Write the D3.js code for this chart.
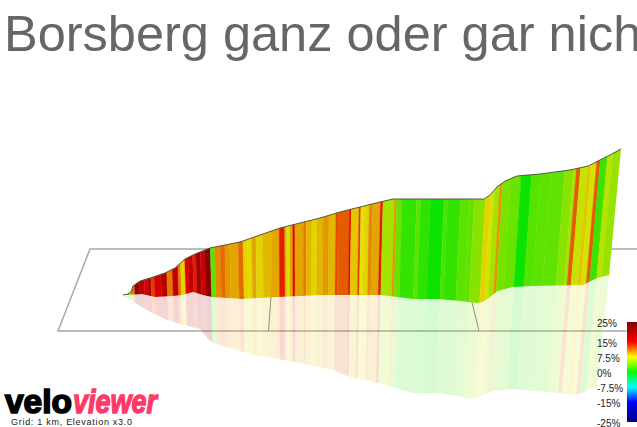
<!DOCTYPE html>
<html><head><meta charset="utf-8">
<script src="https://cdn.jsdelivr.net/npm/d3@7"></script>
<style>html,body{margin:0;padding:0;background:#fff;overflow:hidden}svg{display:block}text{font-family:"Liberation Sans",Arial,sans-serif}</style>
</head><body><svg id="c" width="637" height="427"></svg>
<script>
const titleText = "Borsberg ganz oder gar nicht";
const gridNote = "Grid: 1 km, Elevation x3.0";
const gridKm = [1, 2];
const topKm = [0,.024,.038,.048,.082,.13,.202,.25,.298,.346,.418,.49,.5625,.659,.755,.851,.947,1.043,1.139,1.236,1.298,1.428,1.572,1.736,1.764,1.798,1.837,1.894,2.005,2.149,2.236,2.293,2.341,2.394];
const topElev = [10,12,16,28,38,44,54,64,82,92,104,110,116,130,144,154,164,176,186,196,202,202,202,202,210,226,238,248,252,260,268,280,290,302];
const baseKm = [0,.091,.154,.24,.284,.337,.385,.428,.577,.644,.851,.962,1.236,1.317,1.394,1.51,1.62,1.702,1.731,1.764,1.803,1.875,1.971,2.212,2.279,2.337];
const baseElev = [10,12,6,8,10,16,10,6,2,4,8,10,10,6,2,2,-2,-6,-4,6,18,26,28,30,44,50];
const mirrorKm = [0,.034,.082,.13,.212,.288,.37,.404,.433,.529,.611,.721,.851,1.01,1.091,1.188,1.308,1.394,1.524,1.683,1.779,1.875,2.087,2.183,2.279];
const mirrorElev = [8,2,-12,-24,-40,-50,-58,-76,-86,-98,-108,-116,-126,-140,-154,-162,-176,-186,-186,-198,-182,-178,-186,-190,-174];
const stripeKm = [0,.042,.058,.082,.106,.122,.138,.154,.186,.215,.242,.269,.282,.303,.319,.341,.357,.378,.399,.426,.447,.474,.495,.518,.559,.582,.602,.623,.643,.675,.715,.753,.779,.788,.803,.817,.827,.867,.88,.907,.931,.96,.987,1.019,1.03,1.083,1.091,1.127,1.136,1.152,1.175,1.191,1.227,1.239,1.292,1.303,1.328,1.396,1.415,1.46,1.524,1.54,1.601,1.644,1.665,1.716,1.74,1.756,1.78,1.793,1.828,1.876,1.925,1.965,2.013,2.077,2.117,2.13,2.149,2.181,2.197,2.221,2.237,2.269,2.293,2.46];
const stripeGrade = [3,11,22,19,16,20,13,16,19,11,18,11,8,15,18,14,21,17,23,3,10.5,11.5,10,9.5,11.5,8,7.8,9.5,8,9,9.5,14,9.5,7,9.5,15,9.5,11,9,8,9,10,9,12.5,12,15,8.5,13,7.5,8,10.5,9.5,14,5.5,10,3.5,1.8,3,1.5,.5,2.5,1.8,3,3.2,4.5,8,7,5.5,10,4,3.5,.5,2.8,3,3.2,4.5,5.5,12,6.5,8.5,7,12,2,6,5];
const legendTicks = [25,15,7.5,0,-7.5,-15,-25];
const rampGrades = [25,15,7.5,0,-7.5,-15,-25];
const rampColours = ["#800000","#ff0000","#ffff00","#00ff00","#00ffff","#0000ff","#000080"];

const svg = d3.select("#c");
const kmX = d3.scaleLinear().domain([0,1]).range([123,331]);
const elevY = d3.scaleLinear().domain([0,100]).range([300,250]);
const frontX = d3.scaleLinear().domain([0,1]).range([58,268.5]);
const backX = d3.scaleLinear().domain([0,1]).range([90,274.5]);
const gradeColour = d3.scaleLinear().domain(rampGrades).range(rampColours);
const legendY = d3.scaleLinear().domain([-25,25]).range([422,322]);
const defs = svg.append("defs");
defs.append("filter").attr("id","soft").append("feGaussianBlur").attr("stdDeviation",.45);

// ground grid
const grid = svg.append("g").attr("stroke","#a8a8a8").attr("stroke-width",1.5).attr("fill","none");
const gridBack = 249, gridFront = 331;
grid.append("path").attr("d",`M637,${gridBack}H${backX(0)}L${frontX(0)},${gridFront}H637`);
grid.append("g").attr("stroke","#888").attr("stroke-width",1).selectAll("line").data(gridKm).join("line")
  .attr("x1",frontX).attr("y1",gridFront).attr("x2",backX).attr("y2",gridBack);

const pts = (k,e)=>k.map((d,i)=>[kmX(d),elevY(e[i])]);
const topPts = pts(topKm,topElev), basePts = pts(baseKm,baseElev), mirrorPts = pts(mirrorKm,mirrorElev);
const line = d3.line();
const wallD = line(topPts.concat(basePts.slice().reverse()))+"Z";
const mirrorD = line(basePts.concat(mirrorPts.slice().reverse()))+"Z";
defs.append("clipPath").attr("id","wall").append("path").attr("d",wallD);
defs.append("clipPath").attr("id","mirror").append("path").attr("d",mirrorD);

// perspective lean of the vertical walls
const leanCentre = 300, leanK = 3.05e-4, yRef = 297, yHi = 130, yLo = 420;
const xAt = (x,y)=>x+(x-leanCentre)*(yRef-y)*leanK;
const stripeData = stripeGrade.map((g,i)=>({g,a:kmX(stripeKm[i]),b:kmX(stripeKm[i+1])}));
const stripeD = d=>line([[xAt(d.a,yHi),yHi],[xAt(d.b,yHi),yHi],[xAt(d.b,yLo),yLo],[xAt(d.a,yLo),yLo]])+"Z";
const shade = g=>{const c=d3.rgb(gradeColour(g));return d3.rgb(c.r*.89,c.g*.89,c.b*.89).formatHex();};

function drawStripes(clip,op){
  const g = svg.append("g").attr("clip-path",`url(#${clip})`).attr("opacity",op)
    .append("g").attr("filter","url(#soft)");
  g.selectAll("path").data(stripeData).join("path").attr("d",stripeD)
    .attr("fill",d=>shade(d.g)).attr("stroke",d=>shade(d.g)).attr("stroke-width",.4);
}
drawStripes("mirror",.17);
drawStripes("wall",1);
svg.append("path").attr("d",line(topPts)).attr("fill","none").attr("stroke","#55583a").attr("stroke-width",1);

// title
svg.append("text").attr("x",4).attr("y",51).attr("font-size",50.5).attr("fill","#666").text(titleText);

// legend
const grad = defs.append("linearGradient").attr("id","ramp").attr("x1",0).attr("x2",0).attr("y1",0).attr("y2",1);
grad.selectAll("stop").data(rampGrades).join("stop")
  .attr("offset",d=>(25-d)/50).attr("stop-color",(d,i)=>rampColours[i]);
svg.append("rect").attr("x",627).attr("y",legendY(25)).attr("width",10).attr("height",legendY(-25)-legendY(25)).attr("fill","url(#ramp)");
const ax = d3.axisRight(legendY).tickValues(legendTicks).tickSize(0).tickPadding(0).tickFormat(d=>d+"%");
svg.append("g").attr("transform","translate(597,1.7)").call(ax).call(g=>g.select(".domain").remove())
  .call(g=>g.selectAll("text").attr("font-size",10).attr("fill","#222").attr("font-family","Liberation Sans"));

// logo
svg.append("text").attr("x",5).attr("y",413).attr("font-size",34).attr("font-weight",700).attr("fill","#000").attr("stroke","#000").attr("stroke-width",1.7)
  .attr("textLength",67).attr("lengthAdjust","spacingAndGlyphs").text("velo");
svg.append("text").attr("x",73).attr("y",413).attr("font-size",34).attr("font-weight",700).attr("font-style","italic").attr("fill","#ff3a68").attr("stroke","#ff3a68").attr("stroke-width",1.4)
  .attr("textLength",84).attr("lengthAdjust","spacingAndGlyphs").text("viewer");
svg.append("text").attr("x",11).attr("y",425).attr("font-size",9).attr("fill","#222")
  .attr("textLength",121).attr("lengthAdjust","spacing").text(gridNote);
</script></body></html>
